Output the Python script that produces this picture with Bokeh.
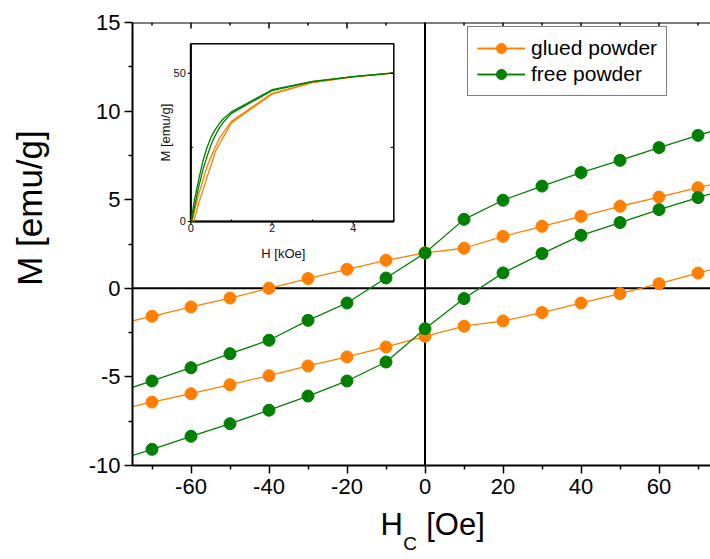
import math
from bokeh.plotting import figure
from bokeh.models import FixedTicker, Span, Label, Range1d
from bokeh.core.properties import value
from bokeh.embed import file_html
from bokeh.resources import INLINE

# ---------------- data (main panel) ----------------
h_oe = [-80, -70, -60, -50, -40, -30, -20, -10, 0, 10, 20, 30, 40, 50, 60, 70, 80]
glued_upper = [-2.10, -1.58, -1.05, -0.55, 0.00, 0.55, 1.07, 1.58, 2.00,
               2.26, 2.93, 3.50, 4.06, 4.63, 5.15, 5.68, 6.20]
glued_lower = [-6.92, -6.42, -5.95, -5.44, -4.93, -4.38, -3.87, -3.31, -2.71,
               -2.14, -1.84, -1.37, -0.83, -0.30, 0.26, 0.86, 1.45]
free_upper = [-5.95, -5.23, -4.48, -3.69, -2.93, -1.81, -0.83, 0.58, 1.99,
              3.89, 4.97, 5.77, 6.53, 7.22, 7.94, 8.63, 9.30]
free_lower = [-9.78, -9.09, -8.35, -7.64, -6.88, -6.08, -5.23, -4.16, -2.28,
              -0.58, 0.87, 1.96, 2.99, 3.71, 4.44, 5.12, 5.80]

x_ticks = [-60, -40, -20, 0, 20, 40, 60]
x_tick_labels = ["-60", "-40", "-20", "0", "20", "40", "60"]
x_minor = [-70, -50, -30, -10, 10, 30, 50, 70]
y_ticks = [-10, -5, 0, 5, 10, 15]
y_tick_labels = ["-10", "-5", "0", "5", "10", "15"]
y_minor = [-7.5, -2.5, 2.5, 7.5, 12.5]

# ---------------- data (inset) ----------------
free_a_h = [0.0, 0.1, 0.2, 0.3, 0.4, 0.5, 0.6, 0.7, 0.8, 1.0, 2.0, 3.0, 4.0, 5.0]
free_a_m = [0.0, 8.0, 14.5, 20.5, 25.0, 28.5, 31.0, 33.0, 34.7, 37.0, 44.5, 47.3, 48.9, 50.2]
free_b_h = [0.02, 0.1, 0.2, 0.3, 0.4, 0.5, 0.6, 0.7, 0.8, 1.0, 2.0, 3.0, 4.0, 5.0]
free_b_m = [0.0, 5.5, 12.0, 17.5, 22.0, 26.0, 29.0, 31.5, 33.5, 36.5, 44.2, 47.2, 48.9, 50.2]
glued_a_h = [0.03, 0.1, 0.2, 0.3, 0.4, 0.5, 0.6, 0.7, 0.8, 1.0, 2.0, 3.0, 4.0, 5.0]
glued_a_m = [0.0, 4.0, 9.5, 14.0, 18.5, 22.0, 25.0, 28.0, 30.0, 33.8, 43.3, 47.0, 48.8, 50.1]
glued_b_h = [0.08, 0.1, 0.2, 0.3, 0.4, 0.5, 0.6, 0.7, 0.8, 1.0, 2.0, 3.0, 4.0, 5.0]
glued_b_m = [0.0, 1.5, 6.5, 10.5, 15.0, 19.0, 23.5, 26.0, 28.5, 33.3, 43.0, 46.9, 48.8, 50.1]

inset_x_lim = [0, 5]
inset_y_lim = [0, 60]
inset_x_ticks = [0, 2, 4]
inset_x_tick_labels = ["0", "2", "4"]
inset_x_minor = [1, 3, 5]
inset_y_ticks = [0, 50]
inset_y_tick_labels = ["0", "50"]
inset_y_minor = [25]
inset_right_ticks = [25, 50]

FONT = "Liberation Sans"
ORANGE = "#FF8000"
GREEN = "#008000"

# ---------------- main figure ----------------
p = figure(width=710, height=559, x_range=Range1d(-75, 73.2), y_range=Range1d(-10, 15),
           output_backend="svg", toolbar_location=None,
           min_border_left=132, min_border_right=0, min_border_top=22, min_border_bottom=94)
p.outline_line_color = None
p.xgrid.visible = False
p.ygrid.visible = False
p.background_fill_color = "white"
p.border_fill_color = "white"

p.xaxis.ticker = FixedTicker(ticks=x_ticks, minor_ticks=x_minor)
p.yaxis.ticker = FixedTicker(ticks=y_ticks, minor_ticks=y_minor)
p.xaxis.major_label_overrides = {t: s for t, s in zip(x_ticks, x_tick_labels)}
p.yaxis.major_label_overrides = {t: s for t, s in zip(y_ticks, y_tick_labels)}
for ax in (p.xaxis[0], p.yaxis[0]):
    ax.axis_line_width = 2
    ax.axis_line_color = "black"
    ax.major_tick_line_width = 1.5
    ax.minor_tick_line_width = 1.5
    ax.major_tick_out = 8
    ax.major_tick_in = 0
    ax.minor_tick_out = 4
    ax.minor_tick_in = 0
    ax.major_label_text_font = FONT
    ax.major_label_text_font_size = "22px"
    ax.major_label_text_color = "black"
p.xaxis.major_label_standoff = 5
p.yaxis.major_label_standoff = 4

# top spine with inward mirror ticks
p.add_layout(Span(location=15, dimension="width", line_color="black", line_width=2))
p.ray(x=x_ticks, y=[15] * len(x_ticks), length=6, length_units="screen",
      angle=-math.pi / 2, line_color="black", line_width=1.5)
p.ray(x=x_minor, y=[15] * len(x_minor), length=3, length_units="screen",
      angle=-math.pi / 2, line_color="black", line_width=1.5)

# zero lines
p.add_layout(Span(location=0, dimension="height", line_color="black", line_width=2,
                  level="underlay"))
p.add_layout(Span(location=0, dimension="width", line_color="black", line_width=2,
                  level="underlay"))

for ys in (glued_upper, glued_lower):
    p.line(h_oe, ys, line_color=ORANGE, line_width=1.3, legend_label="glued powder")
    p.scatter(h_oe, ys, size=12, fill_color=ORANGE, line_color=ORANGE,
              legend_label="glued powder")
for ys in (free_upper, free_lower):
    p.line(h_oe, ys, line_color=GREEN, line_width=1.3, legend_label="free powder")
    p.scatter(h_oe, ys, size=12, fill_color=GREEN, line_color=GREEN,
              legend_label="free powder")

lg = p.legend[0]
lg.location = (335, 369)
lg.border_line_color = "black"
lg.border_line_width = 1
lg.background_fill_color = "white"
lg.background_fill_alpha = 1
lg.label_text_font = FONT
lg.label_text_font_size = "21px"
lg.label_text_color = "black"
lg.padding = 9
lg.margin = 0
lg.spacing = 2
lg.glyph_width = 48
lg.glyph_height = 24
lg.label_height = 24
lg.label_standoff = 6

# axis titles (in side panels so they are not clipped to the frame;
# the panel each one sits in only matters for the space it reserves)
p.add_layout(Label(x=-11.4, y=-13.33, text="H\u2002\u2005[Oe]", text_font=FONT,
                   text_font_size="31px", text_align="left", text_baseline="alphabetic",
                   text_color="black"),
             "below")
p.add_layout(Label(x=-101.5, y=4.53, text="M [emu/g]", text_font=FONT,
                   text_font_size="35px", angle=math.pi / 2, text_align="center",
                   text_baseline="middle", text_color="black"),
             "left")
p.add_layout(Label(x=-5.6, y=-14.43, text="C", text_font=FONT, text_font_size="19px",
                   text_align="left", text_baseline="alphabetic", text_color="black"),
             "left")

# ---------------- inset (own scales inside the main figure) ----------------
p.extra_x_ranges = {"ix": Range1d(-1.436, 12.80)}
p.extra_y_ranges = {"iy": Range1d(-82.39, 67.19)}
IR = dict(x_range_name="ix", y_range_name="iy")

p.quad(left=[inset_x_lim[0]], right=[inset_x_lim[1]], bottom=[inset_y_lim[0]],
       top=[inset_y_lim[1]], fill_color="white", line_color="black", line_width=1.5, **IR)
p.segment(x0=[inset_x_lim[0], inset_x_lim[0]], y0=[inset_y_lim[0], inset_y_lim[0]],
          x1=[inset_x_lim[0], inset_x_lim[1]], y1=[inset_y_lim[1], inset_y_lim[0]],
          line_color="black", line_width=2, **IR)

p.line(glued_a_h, glued_a_m, line_color=ORANGE, line_width=1.3, **IR)
p.line(glued_b_h, glued_b_m, line_color=ORANGE, line_width=1.3, **IR)
p.line(free_a_h, free_a_m, line_color=GREEN, line_width=1.3, **IR)
p.line(free_b_h, free_b_m, line_color=GREEN, line_width=1.3, **IR)

p.ray(x=inset_x_ticks, y=[inset_y_lim[0]] * len(inset_x_ticks), length=3,
      length_units="screen", angle=-math.pi / 2, line_color="black", line_width=1.2, **IR)
p.ray(x=inset_x_minor, y=[inset_y_lim[0]] * len(inset_x_minor), length=2,
      length_units="screen", angle=math.pi / 2, line_color="black", line_width=1.2, **IR)
p.ray(x=[inset_x_lim[0]] * len(inset_y_ticks), y=inset_y_ticks, length=3,
      length_units="screen", angle=math.pi, line_color="black", line_width=1.2, **IR)
p.ray(x=[inset_x_lim[0]] * len(inset_y_minor), y=inset_y_minor, length=2,
      length_units="screen", angle=0, line_color="black", line_width=1.2, **IR)
p.ray(x=[inset_x_lim[1]] * len(inset_right_ticks), y=inset_right_ticks, length=3,
      length_units="screen", angle=math.pi, line_color="black", line_width=1.2, **IR)

p.text(x=inset_x_ticks, y=[inset_y_lim[0]] * len(inset_x_ticks), text=inset_x_tick_labels,
       text_font=value(FONT), text_font_size=value("11px"), text_color="#111111",
       text_align="center", text_baseline="top", y_offset=3, **IR)
p.text(x=[inset_x_lim[0]] * len(inset_y_ticks), y=inset_y_ticks, text=inset_y_tick_labels,
       text_font=value(FONT), text_font_size=value("11px"), text_color="#111111",
       text_align="right", text_baseline="middle", x_offset=-5, **IR)

p.text(x=[2.28], y=[inset_y_lim[0]], text=["H [kOe]"],
       text_font=value(FONT), text_font_size=value("13px"), text_color="#111111",
       text_align="center", text_baseline="top", y_offset=25, **IR)
p.text(x=[inset_x_lim[0]], y=[30.0], text=["M [emu/g]"], angle=math.pi / 2,
       text_font=value(FONT), text_font_size=value("13px"), text_color="#111111",
       text_align="center", text_baseline="middle", x_offset=-25, **IR)

open("out.html", "w").write(file_html(p, INLINE))
